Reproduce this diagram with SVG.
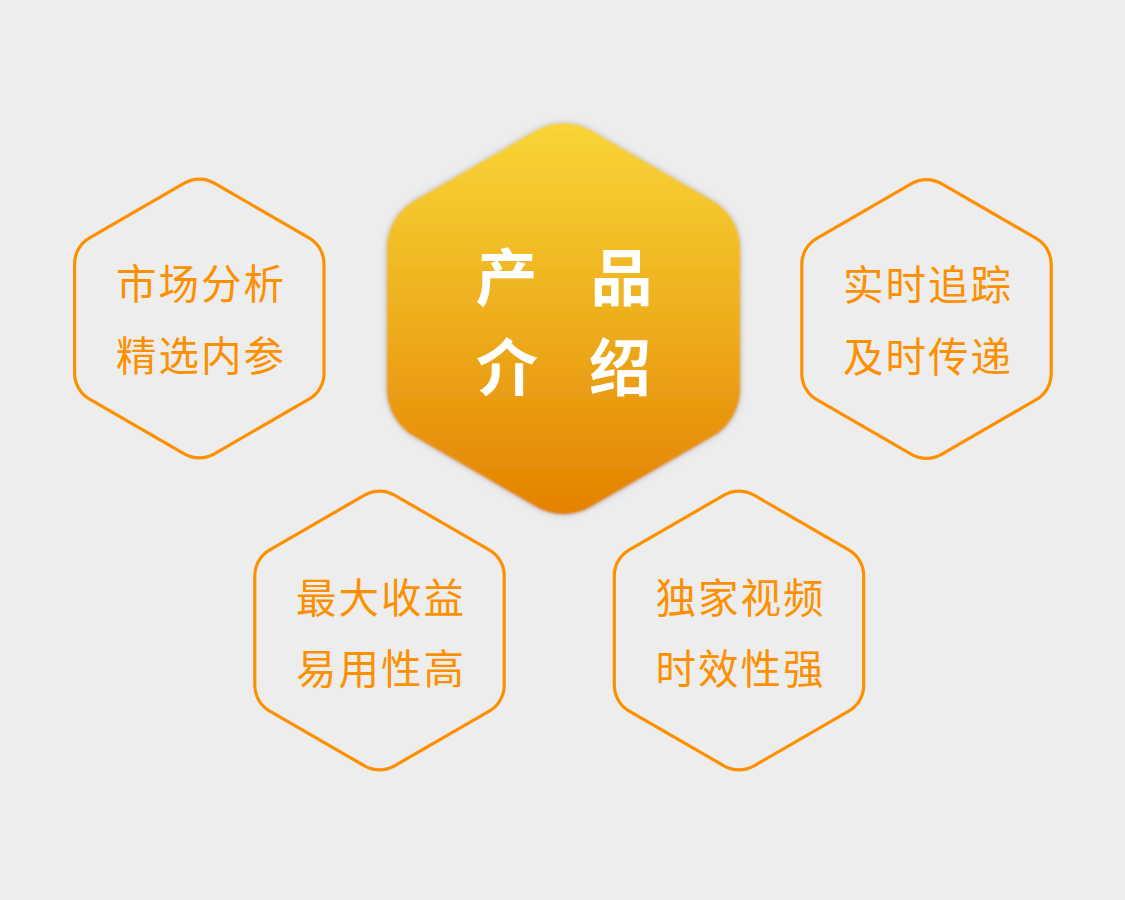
<svg xmlns="http://www.w3.org/2000/svg" width="1125" height="900" viewBox="0 0 1125 900">
  <defs>
    <linearGradient id="gold" x1="0" y1="0" x2="0" y2="1">
      <stop offset="0" stop-color="#F9D537"/>
      <stop offset="0.5" stop-color="#EEAE1E"/>
      <stop offset="1" stop-color="#E48200"/>
    </linearGradient>
    <filter id="soft" x="-10%" y="-10%" width="120%" height="120%">
      <feGaussianBlur in="SourceAlpha" stdDeviation="3" result="a"/>
      <feFlood flood-color="#8a8a8a" flood-opacity="0.55"/>
      <feComposite in2="a" operator="in" result="sh"/>
      <feGaussianBlur in="SourceGraphic" stdDeviation="1.1" result="g"/>
      <feMerge>
        <feMergeNode in="sh"/>
        <feMergeNode in="g"/>
      </feMerge>
    </filter>
    <path id="hexS" d="M -15,-135.35 A30,30 0 0 1 15,-135.35 L 109.7,-80.65 A30,30 0 0 1 124.7,-54.7 L 124.7,54.7 A30,30 0 0 1 109.7,80.65 L 15,135.35 A30,30 0 0 1 -15,135.35 L -109.7,80.65 A30,30 0 0 1 -124.7,54.7 L -124.7,-54.7 A30,30 0 0 1 -109.7,-80.65 Z"/>
    <path id="hexL" d="M -27.5,-188.12 A55,55 0 0 1 27.5,-188.12 L 149.17,-117.88 A55,55 0 0 1 176.67,-70.25 L 176.67,70.25 A55,55 0 0 1 149.17,117.88 L 27.5,188.12 A55,55 0 0 1 -27.5,188.12 L -149.17,117.88 A55,55 0 0 1 -176.67,70.25 L -176.67,-70.25 A55,55 0 0 1 -149.17,-117.88 Z"/>
  </defs>
  <style>
    .outline { fill: none; stroke: #FC9000; stroke-width: 3.2; }
    .lbl { font-family: "Noto Sans CJK SC", "Noto Sans", sans-serif; font-size: 40.5px; fill: #FC9000; text-anchor: middle; letter-spacing: 2px; }
    .big { font-family: "Noto Sans CJK SC", "Noto Sans", sans-serif; font-size: 62px; font-weight: bold; fill: #FFFFFF; text-anchor: middle; }
  </style>
  <rect x="0" y="0" width="1125" height="900" fill="#EDEDED"/>
  <g id="connectors"></g>

  <g id="center">
    <use href="#hexL" transform="translate(563.5,318.7)" fill="url(#gold)" filter="url(#soft)"/>
    <text class="big" x="506.5" y="301">产</text>
    <text class="big" x="621.5" y="301">品</text>
    <text class="big" x="507" y="390.5">介</text>
    <text class="big" x="620" y="390.5">绍</text>
  </g>

  <g id="market">
    <use href="#hexS" class="outline" transform="translate(199.3,318.5)"/>
    <text class="lbl" x="201" y="299">市场分析</text>
    <text class="lbl" x="201" y="371">精选内参</text>
  </g>

  <g id="realtime">
    <use href="#hexS" class="outline" transform="translate(926.5,319)"/>
    <text class="lbl" x="928" y="300">实时追踪</text>
    <text class="lbl" x="928" y="372">及时传递</text>
  </g>

  <g id="profit">
    <use href="#hexS" class="outline" transform="translate(379.5,630.5)"/>
    <text class="lbl" x="381" y="612.5">最大收益</text>
    <text class="lbl" x="381" y="684">易用性高</text>
  </g>

  <g id="video">
    <use href="#hexS" class="outline" transform="translate(739,630.5)"/>
    <text class="lbl" x="740.5" y="612.5">独家视频</text>
    <text class="lbl" x="740.5" y="684">时效性强</text>
  </g>
</svg>
